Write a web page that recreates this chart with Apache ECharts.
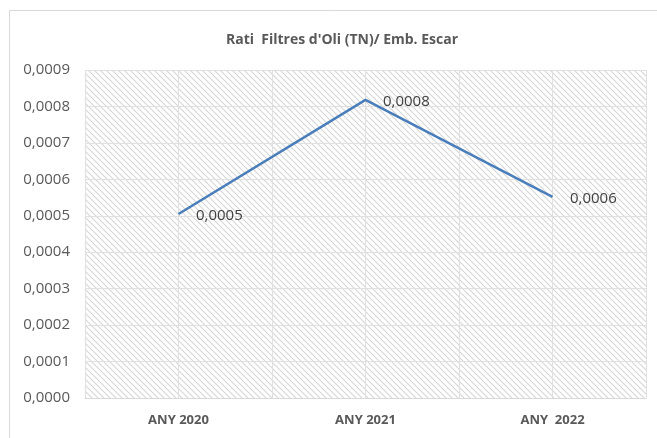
<!DOCTYPE html>
<html><head><meta charset="utf-8">
<script src="https://cdn.jsdelivr.net/npm/echarts@6/dist/echarts.min.js"></script>
<style>html,body{margin:0;padding:0;background:#fff}#c{width:657px;height:438px}</style>
</head><body><div id="c"></div>
<script>
const categories = ['ANY 2020', 'ANY 2021', 'ANY  2022'];
const values = [0.000505, 0.000818, 0.000552];
const yTicks = [0, 0.0001, 0.0002, 0.0003, 0.0004, 0.0005, 0.0006, 0.0007, 0.0008, 0.0009];
const titleText = "Rati  Filtres d'Oli (TN)/ Emb. Escar";

function fmt(v){ return v.toFixed(4).replace('.', ','); }

const pc = document.createElement('canvas');
pc.width = 6; pc.height = 6;
const g = pc.getContext('2d');
g.fillStyle = '#ffffff'; g.fillRect(0,0,6,6);
g.strokeStyle = '#d6d6d6'; g.lineWidth = 1.1;
g.beginPath();
g.moveTo(-1,-1); g.lineTo(7,7);
g.moveTo(-1,5); g.lineTo(1,7);
g.moveTo(5,-1); g.lineTo(7,1);
g.stroke();

const chart = echarts.init(document.getElementById('c'), null, {renderer:'canvas'});
const font = '"Open Sans", "Liberation Sans", sans-serif';
chart.setOption({
  animation:false,
  graphic:[{type:'rect', shape:{x:9.5,y:10.5,width:660,height:440}, style:{fill:'none', stroke:'#d9d9d9', lineWidth:1}}],
  title:{text:titleText, left:337, textAlign:'center', top:28, textStyle:{fontFamily:font, fontSize:14, fontWeight:'bold', color:'#595959'}},
  grid:{left:85, right:11, top:70, bottom:40, show:true, backgroundColor:{image:pc, repeat:'repeat'}, borderWidth:0},
  xAxis:[{type:'category', data:categories, boundaryGap:true,
    axisLine:{show:true, lineStyle:{color:'#d9d9d9'}}, axisTick:{show:false},
    axisLabel:{fontFamily:font, fontSize:13, fontWeight:'bold', color:'#595959', margin:16},
    splitLine:{show:false}},
    {type:'value', min:0, max:6, interval:1, position:'bottom', show:true,
    axisLine:{show:false}, axisTick:{show:false}, axisLabel:{show:false},
    splitLine:{show:true, lineStyle:{color:'#e0e0e0', width:1}}}],
  yAxis:{type:'value', min:0, max:0.0009, interval:0.0001,
    axisLine:{show:false}, axisTick:{show:false},
    axisLabel:{fontFamily:font, fontSize:15, color:'#595959', margin:15, formatter:fmt},
    splitLine:{show:true, lineStyle:{color:'#e0e0e0', width:1}}},
  series:[{type:'line', xAxisIndex:0, data:values, symbol:'circle', symbolSize:1, showSymbol:true,
    itemStyle:{color:'rgba(0,0,0,0)'},
    lineStyle:{color:'#4a7ebb', width:2.5},
    label:{show:true, position:'right', distance:17, fontFamily:font, fontSize:15, color:'#404040', formatter:p=>fmt(p.value), offset:[0,2]}}]
});
</script></body></html>
